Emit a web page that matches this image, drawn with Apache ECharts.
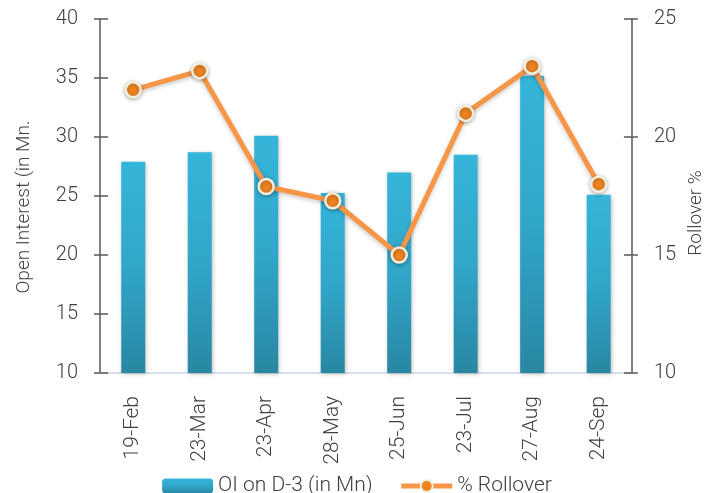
<!DOCTYPE html>
<html><head><meta charset="utf-8">
<script src="https://cdn.jsdelivr.net/npm/echarts@6/dist/echarts.min.js"></script>
<style>html,body{margin:0;padding:0;background:#fff}#c{width:714px;height:493px}</style>
</head><body><div id="c"></div>
<script>
const categories = ['19-Feb','23-Mar','23-Apr','28-May','25-Jun','23-Jul','27-Aug','24-Sep'];
const oiValues = [27.9, 28.7, 30.1, 25.25, 27.0, 28.5, 35.2, 25.1];
const rolloverValues = [22.0, 22.8, 17.9, 17.3, 15.0, 21.0, 23.0, 18.0];
const leftTicks = [10, 40, 5];
const rightTicks = [10, 25, 5];

const FONT = 'Roboto,"DejaVu Sans Condensed",sans-serif';
const FW = 300;
const TXT = '#404040';
const chart = echarts.init(document.getElementById('c'));
const axisLine = {show:true, lineStyle:{color:'#595959', width:1.5}};
chart.setOption({
  animation:false,
  grid:{left:100, right:79, top:19, bottom:120},
  legend:{
    top:469, left:'center', itemGap:26, itemWidth:51, itemHeight:15,
    textStyle:{fontFamily:FONT, fontWeight:FW, fontSize:21, lineHeight:24, color:TXT},
    data:[{name:'OI on D-3 (in Mn)'},{name:'% Rollover', lineStyle:{width:5}}]
  },
  xAxis:{
    type:'category', data:categories,
    axisLine:{show:true, lineStyle:{color:'#C9D7E6', width:1.5}},
    axisTick:{show:false},
    axisLabel:{rotate:90, margin:23, fontFamily:FONT, fontWeight:FW, fontSize:21, color:TXT}
  },
  yAxis:[
    {type:'value', min:leftTicks[0], max:leftTicks[1], interval:leftTicks[2], position:'left',
     name:'Open Interest (in Mn.', nameLocation:'middle', nameGap:66, nameRotate:90,
     nameTextStyle:{fontFamily:FONT, fontWeight:FW, fontSize:19, color:TXT, padding:[0,0,0,-22]},
     axisLine:axisLine, axisTick:{show:true, length:6, lineStyle:{color:'#595959', width:1.5}},
     splitLine:{show:false},
     axisLabel:{margin:22, fontFamily:FONT, fontWeight:FW, fontSize:20, color:TXT}},
    {type:'value', min:rightTicks[0], max:rightTicks[1], interval:rightTicks[2], position:'right',
     name:'Rollover %', nameLocation:'middle', nameGap:36, nameRotate:90,
     nameTextStyle:{fontFamily:FONT, fontWeight:FW, fontSize:19, color:TXT, padding:[0,0,0,-34]},
     axisLine:axisLine, axisTick:{show:true, length:6, lineStyle:{color:'#595959', width:1.5}},
     splitLine:{show:false},
     axisLabel:{margin:22, fontFamily:FONT, fontWeight:FW, fontSize:20, color:TXT}},
    {type:'value', min:leftTicks[0], max:leftTicks[1], interval:leftTicks[2], position:'left',
     axisLine:{show:false}, axisTick:{show:true, inside:true, length:8, lineStyle:{color:'#595959', width:1.5}},
     axisLabel:{show:false}, splitLine:{show:false}},
    {type:'value', min:rightTicks[0], max:rightTicks[1], interval:rightTicks[2], position:'right',
     axisLine:{show:false}, axisTick:{show:true, inside:true, length:8, lineStyle:{color:'#595959', width:1.5}},
     axisLabel:{show:false}, splitLine:{show:false}}
  ],
  series:[
    {name:'OI on D-3 (in Mn)', type:'bar', yAxisIndex:0, data:oiValues, barWidth:24,
     itemStyle:{
       color:new echarts.graphic.LinearGradient(0,0,0,1,[{offset:0,color:'#35B5DA'},{offset:0.5,color:'#31A6C9'},{offset:1,color:'#2987A3'}]),
       shadowColor:'rgba(0,0,0,0.25)', shadowBlur:4, shadowOffsetX:1, shadowOffsetY:1
     }},
    {name:'% Rollover', type:'line', yAxisIndex:1, data:rolloverValues,
     symbol:'circle', symbolSize:15,
     lineStyle:{color:'#F79646', width:5, shadowColor:'rgba(0,0,0,0.2)', shadowBlur:4, shadowOffsetY:2},
     itemStyle:{color:'#EE8422', borderColor:'#F2EEDE', borderWidth:2.5,
       shadowColor:'rgba(0,0,0,0.3)', shadowBlur:4, shadowOffsetY:1}}
  ]
});
</script></body></html>
